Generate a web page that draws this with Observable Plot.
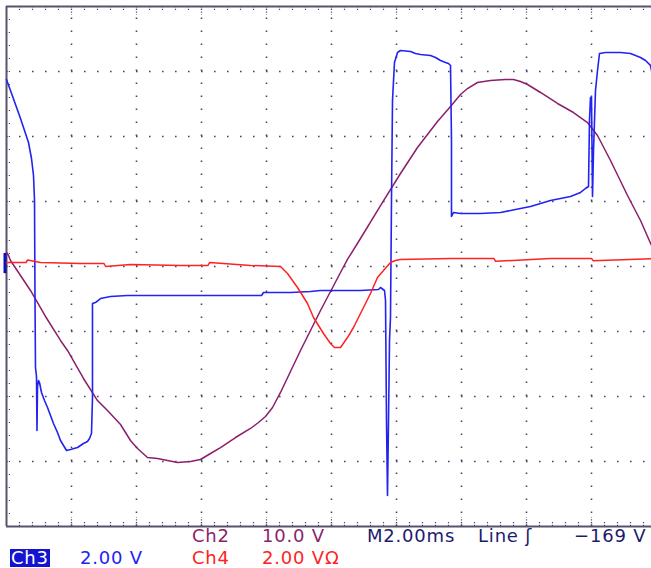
<!DOCTYPE html>
<html>
<head>
<meta charset="utf-8">
<script src="https://cdn.jsdelivr.net/npm/d3@7"></script>
<script src="https://cdn.jsdelivr.net/npm/@observablehq/plot@0.6"></script>
<style>
  html, body { margin: 0; padding: 0; background: #fff; overflow: hidden; width: 651px; height: 568px; }
  #wrap { position: relative; width: 651px; height: 568px; }
  .lbl { position: absolute; font-family: "DejaVu Sans", sans-serif; font-size: 18px; line-height: 18px; letter-spacing: 0.8px; white-space: pre; }
</style>
</head>
<body>
<div id="wrap"></div>
<script>
// Time base: 2.00 ms/div, 10 divisions (ms)
// Ch3 (blue), 2.00 V/div — time (ms) and volts
const ch3Time = [0,0.123,0.277,0.431,0.585,0.677,0.769,0.831,0.862,0.877,0.892,0.923,0.938,0.954,0.985,1.015,1.077,1.169,1.262,1.354,1.446,1.569,1.662,1.754,1.846,1.969,2.185,2.369,2.492,2.554,2.615,2.646,2.646,2.738,2.892,3.2,3.723,4.431,5.354,6.277,7.2,7.846,7.908,8.738,9.354,9.662,10.277,10.892,11.446,11.508,11.631,11.662,11.692,11.723,11.754,11.785,11.815,11.846,11.877,11.938,12.031,12.123,12.431,12.585,12.738,13.046,13.2,13.354,13.508,13.6,13.662,13.692,13.692,13.754,13.969,14.277,14.585,15.2,15.508,15.815,16.123,16.431,16.738,17.046,17.354,17.662,17.815,17.908,17.938,17.969,18.0,18.031,18.062,18.123,18.185,18.246,18.431,18.892,19.2,19.508,19.662,19.815,19.877,20.0];
const ch3Volts = [5.754,5.415,4.985,4.554,4.092,3.815,3.323,2.8,2.031,-1.046,-3.108,-3.385,-5.046,-3.692,-3.508,-3.569,-3.877,-4.123,-4.338,-4.585,-4.831,-5.108,-5.354,-5.508,-5.662,-5.631,-5.569,-5.446,-5.385,-5.292,-5.138,-4.031,-1.138,-1.108,-0.985,-0.923,-0.892,-0.892,-0.892,-0.892,-0.892,-0.892,-0.8,-0.8,-0.769,-0.738,-0.738,-0.738,-0.708,-0.646,-0.738,-1.046,-4.738,-7.046,-4.738,-2.277,-1.569,2.031,5.108,6.277,6.585,6.646,6.615,6.554,6.523,6.492,6.431,6.338,6.277,6.246,6.185,3.877,1.538,1.662,1.631,1.631,1.631,1.662,1.723,1.785,1.846,1.938,2.031,2.092,2.154,2.277,2.4,2.462,4.492,5.2,5.2,2.154,3.569,5.415,6.031,6.554,6.585,6.585,6.554,6.431,6.338,6.185,5.877,5.262];

// Ch2 (purple), 10.0 V/div
const ch2Time = [0,0.062,0.123,0.431,0.738,1.2,1.662,1.877,2.369,2.8,3.108,3.508,3.815,4.031,4.338,4.646,5.262,5.662,5.969,6.277,6.585,7.046,7.508,7.754,7.969,8.185,8.431,8.738,9.046,9.662,10.277,10.492,10.892,11.508,12.123,12.646,13.262,13.662,13.969,14.185,14.492,14.892,15.354,15.6,15.815,16.031,16.431,16.954,17.446,17.877,18.185,18.585,19.108,19.508,19.846,20.0];
const ch2Volts = [2.15,1.69,0.92,-1.38,-3.69,-7.69,-11.38,-12.92,-17.23,-20.62,-22.15,-24.31,-26.77,-28.0,-29.38,-29.54,-30.15,-30.0,-29.69,-28.77,-27.85,-26.31,-24.92,-24.0,-23.08,-21.69,-19.38,-16.15,-12.92,-6.77,-0.92,1.08,4.31,9.38,14.31,18.31,22.31,24.62,26.46,27.38,28.31,28.62,28.77,28.77,28.46,28.0,26.77,25.08,23.69,22.15,20.15,16.31,10.92,7.08,3.23,1.69];

// Ch4 (red), 2.00 V/div
const ch4Time = [0,0.6,0.65,1.046,2.277,3.0,3.05,3.815,5.354,6.2,6.25,7.508,8.431,8.646,8.954,9.262,9.446,9.754,9.969,10.092,10.277,10.492,10.677,10.985,11.2,11.415,11.6,11.815,11.969,12.123,13.662,15.0,15.05,16.738,18.0,18.05,20.0];
const ch4Volts = [0.123,0.123,0.2,0.123,0.092,0.092,0.0,0.062,0.031,0.031,0.12,0.031,0,-0.215,-0.646,-1.138,-1.569,-2.062,-2.369,-2.492,-2.492,-2.185,-1.877,-1.262,-0.831,-0.338,-0.123,0.123,0.185,0.215,0.246,0.246,0.16,0.246,0.246,0.18,0.246];

const voltsPerDiv = {ch2: 10, ch3: 2, ch4: 2};
const colors = {ch2: "#8c1f6c", ch3: "#2222f2", ch4: "#ff2222", text: "#1c1c6c", grid: "#46466a", frame: "#55556c"};

// footer readout texts
const row1 = [
  {text: "Ch2", left: 192, color: colors.ch2},
  {text: "10.0 V", left: 262, color: colors.ch2},
  {text: "M2.00ms", left: 367, color: colors.text},
  {text: "Line \u0283", left: 478, color: colors.text},
  {text: "\u2212169 V", left: 574, color: colors.text}
];
const row2 = [
  {text: "Ch3", left: 10, color: "#ffffff", bg: "#1414d0"},
  {text: "2.00 V", left: 80, color: colors.ch3},
  {text: "Ch4", left: 192, color: colors.ch4},
  {text: "2.00 V\u03A9", left: 262, color: colors.ch4}
];

const toRows = (ts, vs, vdiv) => ts.map((t, i) => ({t, d: vs[i] / vdiv}));
const blue = toRows(ch3Time, ch3Volts, voltsPerDiv.ch3);
const purple = toRows(ch2Time, ch2Volts, voltsPerDiv.ch2);
const red = toRows(ch4Time, ch4Volts, voltsPerDiv.ch4);

const gridX = d3.range(2, 20, 2);
const gridY = d3.range(-3, 4, 1);
const minorX = d3.range(0.4, 20, 0.4);
const minorY = d3.range(-3.8, 4, 0.2);

const chart = Plot.plot({
  width: 651,
  height: 528,
  margin: 0,
  x: {domain: [0, 20], range: [6, 656], axis: null},
  y: {domain: [-4, 4], range: [526, 6], axis: null},
  style: {background: "white", overflow: "hidden"},
  marks: [
    // dotted graticule
    Plot.ruleX(gridX, {x: d => d, y1: -4, y2: 4, stroke: colors.grid, strokeWidth: 1.6, strokeDasharray: "1.6,11.4"}),
    Plot.ruleY(gridY, {y: d => d, x1: 0, x2: 20, stroke: colors.grid, strokeWidth: 1.6, strokeDasharray: "1.6,11.4"}),
    // edge ticks
    Plot.ruleX(minorX, {x: d => d, y1: 4, y2: 4 - 5 / 65, stroke: colors.grid, strokeWidth: 1.2, strokeDasharray: "1.2,1.6"}),
    Plot.ruleX(gridX, {x: d => d, y1: 4, y2: 4 - 9 / 65, stroke: colors.grid, strokeWidth: 1.2, strokeDasharray: "1.2,1.6"}),
    Plot.ruleX(minorX, {x: d => d, y1: -4, y2: -4 + 5 / 65, stroke: colors.grid, strokeWidth: 1.2, strokeDasharray: "1.2,1.6"}),
    Plot.ruleX(gridX, {x: d => d, y1: -4, y2: -4 + 9 / 65, stroke: colors.grid, strokeWidth: 1.2, strokeDasharray: "1.2,1.6"}),
    Plot.ruleY(minorY, {y: d => d, x1: 0, x2: 5 / 32.5, stroke: colors.grid, strokeWidth: 1.2, strokeDasharray: "1.2,1.6"}),
    // frame
    Plot.ruleX([0], {x: d => d, y1: -4, y2: 4, stroke: colors.frame, strokeWidth: 2}),
    Plot.ruleY([4, -4], {y: d => d, x1: 0, x2: 20, stroke: colors.frame, strokeWidth: 2}),
    // Ch3 ground marker
    Plot.ruleX([0], {x: d => d, y1: 0.2, y2: -0.11, dx: -1.5, stroke: "#1010b8", strokeWidth: 3}),
    // traces
    Plot.line(purple, {x: "t", y: "d", stroke: colors.ch2, strokeWidth: 1.5}),
    Plot.line(blue, {x: "t", y: "d", stroke: colors.ch3, strokeWidth: 1.6}),
    Plot.line(red, {x: "t", y: "d", stroke: colors.ch4, strokeWidth: 1.5})
  ]
});

const wrap = document.getElementById("wrap");
wrap.appendChild(chart);
const addRow = (items, top) => items.forEach(it => {
  const s = document.createElement("span");
  s.className = "lbl";
  s.textContent = it.text;
  s.style.left = it.left + "px";
  s.style.top = top + "px";
  s.style.color = it.color;
  if (it.bg) { s.style.background = it.bg; s.style.padding = "0 1px"; }
  wrap.appendChild(s);
});
addRow(row1, 527);
addRow(row2, 548.5);
</script>
</body>
</html>
